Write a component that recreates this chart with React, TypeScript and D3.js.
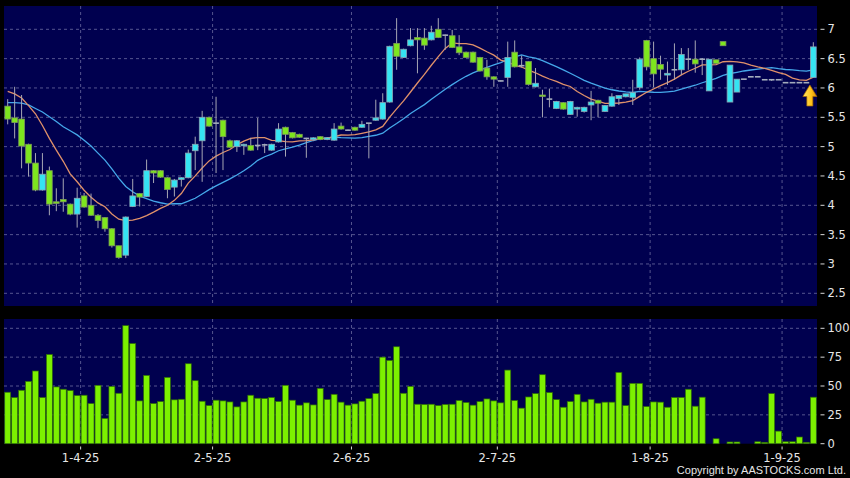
import React from "react";
import * as d3 from "d3";

const opens = [5.69,5.49,5.47,5.04,4.72,4.26,4.59,4.06,4.10,4.02,3.85,4.16,4.00,3.83,3.79,3.60,3.31,3.15,3.98,4.20,4.15,4.59,4.59,4.47,4.31,4.44,4.47,4.93,5.10,5.50,5.40,5.45,5.10,5.00,5.02,5.02,5.02,5.03,4.94,5.08,5.33,5.24,5.21,5.14,5.12,5.17,5.12,5.11,5.35,5.28,5.33,5.33,5.40,5.45,5.47,5.76,6.76,6.52,6.72,6.86,6.85,6.82,7.00,6.90,6.89,6.70,6.61,6.61,6.52,6.34,6.19,6.12,6.18,6.61,6.38,6.45,6.02,5.88,5.81,5.65,5.75,5.55,5.64,5.60,5.71,5.79,5.60,5.69,5.82,5.85,5.84,6.01,6.81,6.50,6.40,6.22,6.31,6.31,6.49,6.49,6.49,5.95,6.48,6.79,5.76,5.93,6.15,6.19,6.19,6.14,6.14,6.14,6.09,6.09,6.09,6.09,6.18];
const highs = [5.81,6.02,5.88,5.05,4.89,4.89,4.66,4.29,4.46,4.03,4.30,4.21,4.20,3.85,3.80,3.61,3.31,3.81,4.45,4.21,4.78,4.60,4.60,4.48,4.45,4.48,4.95,5.17,5.61,5.51,5.85,5.46,5.12,5.11,5.05,5.15,5.49,5.05,5.05,5.40,5.34,5.25,5.22,5.15,5.16,5.18,5.16,5.40,5.41,5.29,5.34,5.44,5.40,5.80,5.91,6.72,7.19,6.67,7.02,7.02,7.02,7.06,7.19,6.91,6.99,6.90,6.62,6.62,6.53,6.48,6.20,6.13,6.79,6.81,6.55,6.46,6.34,5.97,5.99,5.78,5.76,5.78,5.68,5.68,5.95,5.80,5.71,5.91,5.87,5.90,6.14,6.52,6.82,6.79,6.55,6.45,6.76,6.68,6.68,6.81,6.51,6.49,6.48,6.79,6.39,6.15,6.15,6.19,6.19,6.14,6.14,6.14,6.09,6.09,6.09,6.09,6.78];
const lows = [5.38,5.14,4.63,4.49,4.24,4.25,3.83,3.90,3.89,3.83,3.62,3.96,3.82,3.61,3.55,3.28,3.09,3.10,3.97,3.98,4.14,4.38,4.47,4.12,4.15,4.32,4.46,4.60,4.40,5.34,4.55,4.60,4.98,4.91,4.86,4.93,4.94,4.89,4.93,5.07,4.83,5.14,5.15,4.81,5.11,5.11,5.11,5.10,5.29,5.27,5.27,5.32,4.80,5.44,5.46,5.75,6.31,6.51,6.71,6.25,6.65,6.81,6.85,6.65,6.68,6.56,6.51,6.43,6.28,6.14,6.02,6.11,6.02,6.35,6.35,6.04,6.01,5.50,5.67,5.64,5.63,5.54,5.51,5.58,5.45,5.50,5.59,5.68,5.71,5.84,5.71,5.97,6.30,6.01,6.14,6.05,6.14,6.22,6.31,6.26,6.22,5.95,6.42,6.72,5.76,5.93,6.15,6.19,6.19,6.14,6.12,6.14,6.09,6.09,6.09,6.09,6.18];
const closes = [5.47,5.41,5.01,4.72,4.26,4.53,4.02,4.03,4.06,3.85,4.12,3.97,3.83,3.74,3.60,3.31,3.11,3.80,4.16,4.14,4.59,4.55,4.48,4.27,4.43,4.47,4.89,5.04,5.50,5.35,5.40,5.17,4.99,5.10,5.04,4.94,5.02,5.03,5.04,5.30,5.21,5.15,5.16,5.14,5.15,5.12,5.15,5.30,5.30,5.28,5.28,5.38,5.40,5.49,5.75,6.71,6.54,6.66,6.82,6.82,6.73,6.95,6.86,6.90,6.69,6.60,6.52,6.44,6.29,6.19,6.15,6.12,6.52,6.36,6.38,6.06,6.08,5.86,5.81,5.77,5.64,5.77,5.67,5.67,5.76,5.74,5.70,5.85,5.87,5.90,5.92,6.49,6.36,6.24,6.32,6.25,6.31,6.57,6.49,6.41,6.49,6.49,6.42,6.72,6.39,6.15,6.15,6.19,6.19,6.14,6.14,6.14,6.09,6.09,6.09,6.09,6.70];
const volumes = [44.6,40.0,46.3,54.0,63.0,40.0,77.3,49.2,47.2,46.0,41.7,42.0,34.8,50.6,21.9,49.7,43.7,102.3,86.8,37.1,59.2,34.8,36.5,57.5,38.0,38.5,69.3,54.6,36.8,33.0,37.7,37.1,36.2,31.9,36.2,42.0,39.4,39.1,40.0,36.5,50.6,37.7,33.4,35.4,33.6,48.0,38.2,42.8,36.0,33.4,34.5,36.8,39.1,43.4,75.0,72.2,84.0,43.7,49.7,34.2,34.0,34.2,33.0,34.0,34.2,37.4,35.7,33.4,36.5,38.8,37.1,35.4,63.8,37.4,30.8,40.5,43.4,59.8,44.3,38.2,31.6,36.5,42.8,36.2,38.5,35.1,36.0,36.0,61.8,33.0,52.3,52.3,32.2,36.2,36.0,31.6,40.0,40.0,47.2,32.5,40.3,0,4.3,0,1.5,1.5,0,0,1.7,1.2,43.4,10.9,1.7,1.7,5.8,1.2,40.3];

// moving-average values read from the chart where the window is not yet full
const ma10Head = [5.94,5.90,5.83,5.70,5.56,5.36,5.14,4.94,4.75];
const ma20Head = [5.75,5.75,5.74,5.71,5.65,5.59,5.51,5.43,5.34,5.27,5.20,5.11,5.01,4.89,4.77,4.62,4.46,4.32,4.23];

const xTickIndex = [11, 30, 50, 71, 93, 112];
const xTickLabels = ["1-4-25", "2-5-25", "2-6-25", "2-7-25", "1-8-25", "1-9-25"];
const priceTicks = [2.5, 3, 3.5, 4, 4.5, 5, 5.5, 6, 6.5, 7];
const volumeTicks = [0, 25, 50, 75, 100];

const W = 850, H = 478;
const PL = 4, PR = 817;
const MAIN_T = 6, MAIN_B = 306;
const VOL_T = 319, VOL_B = 443.7;

function sma(period: number, head: number[]) {
  return closes.map((_, i) =>
    i < period - 1 ? head[i] : (d3.mean(closes.slice(i - period + 1, i + 1)) as number)
  );
}

export default function App() {
  const idx = closes.map((_, i) => i);
  const xb = d3.scaleBand<number>().domain(idx).range([4.23, 816.8]).padding(0);
  const step = xb.step();
  const xc = (i: number) => (xb(i) as number) + step / 2;
  const y = d3.scaleLinear().domain([2.5, 7]).range([293.3, 29.3]);
  const yv = d3.scaleLinear().domain([0, 100]).range([VOL_B, 328.3]);

  const ma10 = sma(10, ma10Head);
  const ma20 = sma(20, ma20Head);
  const line = d3.line<number>().x((_, i) => xc(i)).y((d) => y(d)).curve(d3.curveLinear);

  const gridX = xTickIndex.map((i) => (xb(i) as number));
  const bw = 5.7;
  const font = "'DejaVu Sans', sans-serif";
  const gridColor = "#55558f";

  const arrowX = (xc(115) + xc(116)) / 2;
  const arrowTop = 85;

  return (
    <div style={{ position: "absolute", left: 0, top: 0 }}>
      <svg width={W} height={H} style={{ display: "block", background: "#000" }}>
        <defs>
          <linearGradient id="arrowGrad" x1="0" y1="0" x2="1" y2="0">
            <stop offset="0" stopColor="#ffe866" />
            <stop offset="0.6" stopColor="#ffc21a" />
            <stop offset="1" stopColor="#d98a00" />
          </linearGradient>
        </defs>
        <rect x={0} y={0} width={W} height={H} fill="#000" />
        {/* panels */}
        <rect x={PL} y={MAIN_T} width={PR - PL} height={MAIN_B - MAIN_T} fill="#00004f" />
        <rect x={PL} y={VOL_T} width={PR - PL} height={VOL_B - VOL_T} fill="#00004f" />

        {/* horizontal grid main */}
        {priceTicks.map((t) => (
          <line key={"pg" + t} x1={PL} x2={PR} y1={y(t)} y2={y(t)} stroke={gridColor} strokeDasharray="3,3" strokeWidth={1} />
        ))}
        {volumeTicks.filter((t) => t > 0).map((t) => (
          <line key={"vg" + t} x1={PL} x2={PR} y1={yv(t)} y2={yv(t)} stroke={gridColor} strokeDasharray="3,3" strokeWidth={1} />
        ))}
        {/* vertical grid */}
        {gridX.map((gx, k) => (
          <g key={"vx" + k}>
            <line x1={gx} x2={gx} y1={MAIN_T} y2={MAIN_B} stroke={gridColor} strokeDasharray="3,3" />
            <line x1={gx} x2={gx} y1={VOL_T} y2={VOL_B} stroke={gridColor} strokeDasharray="3,3" />
          </g>
        ))}

        {/* moving averages */}
        <path d={line(ma20) as string} fill="none" stroke="#45a8ea" strokeWidth={1.3} />
        <path d={line(ma10) as string} fill="none" stroke="#e0916a" strokeWidth={1.3} />

        {/* candles */}
        {idx.map((i) => {
          const o = opens[i], c = closes[i], h = highs[i], l = lows[i];
          const cx = xc(i);
          const flat = Math.abs(c - o) < 0.005;
          const up = c > o;
          const top = y(Math.max(o, c));
          const bot = y(Math.min(o, c));
          return (
            <g key={"c" + i}>
              {h - l > 0.005 && (
                <line x1={cx} x2={cx} y1={y(h)} y2={y(l)} stroke="#a6a6b4" strokeWidth={1} />
              )}
              {flat ? (
                <line x1={cx - bw / 2} x2={cx + bw / 2} y1={y(c)} y2={y(c)} stroke="#a4acbc" strokeWidth={1.6} />
              ) : (
                <rect
                  x={cx - bw / 2}
                  y={top}
                  width={bw}
                  height={Math.max(bot - top, 1.5)}
                  fill={up ? "#35e4f2" : "#7ee61e"}
                  stroke={up ? "#8aa6b4" : "#7c9a58"}
                  strokeWidth={0.8}
                />
              )}
            </g>
          );
        })}

        {/* arrow */}
        <path
          d={`M${arrowX},${arrowTop} L${arrowX + 7},${arrowTop + 11.5} L${arrowX + 3},${arrowTop + 11.5} L${arrowX + 3},${arrowTop + 21} L${arrowX - 3},${arrowTop + 21} L${arrowX - 3},${arrowTop + 11.5} L${arrowX - 7},${arrowTop + 11.5} Z`}
          fill="url(#arrowGrad)"
          stroke="#a86a00"
          strokeWidth={0.7}
        />

        {/* volume bars */}
        {idx.map((i) =>
          volumes[i] > 0 ? (
            <rect
              key={"v" + i}
              x={xc(i) - (step - 1) / 2}
              y={yv(volumes[i])}
              width={step - 1}
              height={VOL_B - yv(volumes[i])}
              fill="#7cf000"
              stroke="#2e6a08"
              strokeWidth={0.7}
            />
          ) : null
        )}

        {/* price axis labels */}
        {priceTicks.map((t) => (
          <g key={"pt" + t}>
            <line x1={820.5} x2={824.5} y1={y(t)} y2={y(t)} stroke="#d8d8d8" />
            <text x={827.5} y={y(t)} dy="0.36em" fill="#e6e6e6" fontSize={11.5} fontFamily={font}>
              {String(t)}
            </text>
          </g>
        ))}
        {volumeTicks.map((t) => (
          <g key={"vt" + t}>
            <line x1={820.5} x2={824.5} y1={yv(t)} y2={yv(t)} stroke="#d8d8d8" />
            <text x={827.5} y={yv(t)} dy="0.36em" fill="#e6e6e6" fontSize={11.5} fontFamily={font}>
              {String(t)}
            </text>
          </g>
        ))}

        {/* date labels */}
        {gridX.map((gx, k) => (
          <g key={"xt" + k}>
            <line x1={gx} x2={gx} y1={446.5} y2={449.5} stroke="#d8d8d8" />
            <text x={gx} y={461.5} textAnchor="middle" fill="#e6e6e6" fontSize={11.5} fontFamily={font}>
              {xTickLabels[k]}
            </text>
          </g>
        ))}

        <text x={846} y={474} textAnchor="end" fill="#e6e6e6" fontSize={11} fontFamily="'Liberation Sans', Arial, sans-serif">
          Copyright by AASTOCKS.com Ltd.
        </text>
      </svg>
    </div>
  );
}
